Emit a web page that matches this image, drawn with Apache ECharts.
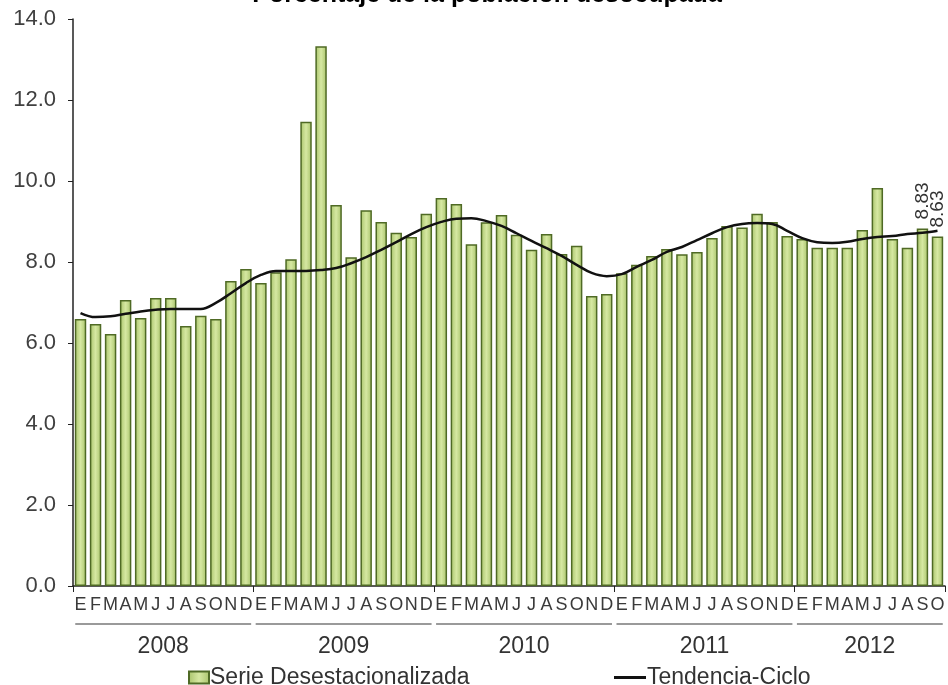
<!DOCTYPE html>
<html>
<head>
<meta charset="utf-8">
<script src="https://cdn.jsdelivr.net/npm/echarts@6/dist/echarts.min.js"></script>
<style>
  html, body { margin: 0; padding: 0; background: #fff; }
  #chart { width: 948px; height: 685px; }
</style>
</head>
<body>
<div id="chart"></div>
<script>
const monthLetters = ['E','F','M','A','M','J','J','A','S','O','N','D'];
const years = ['2008', '2009', '2010', '2011', '2012'];
const monthsInYear = [12, 12, 12, 12, 10];
const yTicks = { min: 0, max: 14, step: 2 };

// Serie desestacionalizada, ene 2008 - oct 2012
const serie2008 = [6.59, 6.47, 6.22, 7.06, 6.62, 7.11, 7.11, 6.42, 6.67, 6.59, 7.53, 7.83];
const serie2009 = [7.48, 7.75, 8.07, 11.46, 13.33, 9.41, 8.12, 9.28, 8.99, 8.72, 8.62, 9.19];
const serie2010 = [9.58, 9.43, 8.44, 8.98, 9.16, 8.67, 8.30, 8.69, 8.20, 8.40, 7.16, 7.21];
const serie2011 = [7.72, 7.93, 8.15, 8.32, 8.19, 8.25, 8.59, 8.89, 8.85, 9.19, 8.99, 8.64];
const serie2012 = [8.57, 8.35, 8.35, 8.35, 8.79, 9.83, 8.57, 8.35, 8.83, 8.63];

// Tendencia-ciclo
const tend2008 = [6.74, 6.64, 6.66, 6.72, 6.78, 6.82, 6.84, 6.84, 6.84, 6.99, 7.23, 7.48];
const tend2009 = [7.68, 7.78, 7.78, 7.78, 7.80, 7.85, 7.97, 8.12, 8.30, 8.49, 8.69, 8.86];
const tend2010 = [8.99, 9.07, 9.08, 9.01, 8.89, 8.71, 8.52, 8.34, 8.15, 7.93, 7.73, 7.65];
const tend2011 = [7.70, 7.88, 8.05, 8.25, 8.37, 8.54, 8.71, 8.86, 8.94, 8.96, 8.94, 8.77];
const tend2012 = [8.59, 8.49, 8.47, 8.50, 8.57, 8.62, 8.64, 8.69, 8.72, 8.77];

const serie = [].concat(serie2008, serie2009, serie2010, serie2011, serie2012);
const tendencia = [].concat(tend2008, tend2009, tend2010, tend2011, tend2012);

// etiquetas de meses y posiciones de año
const categories = [];
const yearCenters = {};
let start = 0;
years.forEach((y, k) => {
  for (let m = 0; m < monthsInYear[k]; m++) categories.push(monthLetters[m]);
  yearCenters[start + monthsInYear[k] / 2] = y;
  start += monthsInYear[k];
});
const total = categories.length;

const labeled = { 56: true, 57: true }; // sep y oct 2012
const barData = serie.map((v, i) => labeled[i] ? {
  value: v,
  label: {
    show: true, position: 'top', rotate: 90, align: 'left', verticalAlign: 'middle',
    distance: 9, fontSize: 19, color: '#333', formatter: p => p.value.toFixed(2)
  }
} : v);

const barFill = new echarts.graphic.LinearGradient(0, 0, 1, 0, [
  { offset: 0, color: '#a8c36a' },
  { offset: 0.5, color: '#d6e8a2' },
  { offset: 1, color: '#a8c36a' }
]);

const font = 'Liberation Sans, Arial, sans-serif';
const chart = echarts.init(document.getElementById('chart'));

chart.setOption({
  animation: false,
  textStyle: { fontFamily: font },
  title: {
    text: 'Porcentaje de la población desocupada',
    left: 482, top: -22, textAlign: 'center',
    textStyle: { fontSize: 25, fontWeight: 'bold', color: '#000', fontFamily: font }
  },
  legend: [
    {
      data: [{ name: 'Serie Desestacionalizada', icon: 'rect' }], left: 183, top: 661,
      itemWidth: 20, itemHeight: 12, itemGap: 4,
      textStyle: { fontSize: 23, color: '#333', padding: [0, 0, 0, -4] }
    },
    {
      data: [{ name: 'Tendencia-Ciclo', icon: 'rect' }], left: 609, top: 661,
      itemWidth: 32, itemHeight: 3,
      itemStyle: { borderWidth: 0 },
      textStyle: { fontSize: 23, color: '#333', padding: [0, 0, 0, -4] }
    }
  ],
  grid: { left: 73, right: 3, top: 19, bottom: 99 },
  xAxis: [
    {
      type: 'category',
      data: categories,
      axisLine: { lineStyle: { color: '#222', width: 1.5 } },
      axisTick: { show: true, length: 6, interval: (i) => i % 12 === 0, lineStyle: { color: '#222' } },
      axisLabel: { interval: 0, margin: 10, fontSize: 18, color: '#3a3a3a' }
    },
    {
      type: 'value',
      position: 'bottom',
      offset: 38,
      min: 0, max: total, interval: 0.5,
      axisLine: { show: false },
      axisTick: { show: false },
      splitLine: { show: false },
      axisLabel: {
        margin: 11, fontSize: 23, color: '#333',
        showMinLabel: true, showMaxLabel: true,
        formatter: v => yearCenters[v] || ''
      }
    }
  ],
  yAxis: {
    type: 'value',
    min: yTicks.min, max: yTicks.max, interval: yTicks.step,
    axisLine: { show: true, lineStyle: { color: '#222', width: 1.5 } },
    axisTick: { show: true, length: 5, lineStyle: { color: '#222' } },
    splitLine: { show: false },
    axisLabel: { fontSize: 22, color: '#404040', margin: 17, formatter: v => v.toFixed(1) }
  },
  series: [
    {
      name: 'Serie Desestacionalizada',
      type: 'bar',
      data: barData,
      barCategoryGap: '24%',
      itemStyle: { color: barFill, borderColor: '#4f6a25', borderWidth: 1.5 }
    },
    {
      name: 'Tendencia-Ciclo',
      type: 'line',
      data: tendencia,
      smooth: 0.4,
      symbol: 'none',
      lineStyle: { color: '#111', width: 2.5 },
      itemStyle: { color: '#111' },
      z: 5
    }
  ]
});

// líneas grises bajo los meses, una por año
const segments = [];
let s = 0;
monthsInYear.forEach(n => {
  const x1 = chart.convertToPixel({ xAxisIndex: 1 }, s + 0.15);
  const x2 = chart.convertToPixel({ xAxisIndex: 1 }, s + n - 0.15);
  segments.push({
    type: 'line',
    shape: { x1: x1, y1: 624, x2: x2, y2: 624 },
    style: { stroke: '#9a9a9a', lineWidth: 2 }
  });
  s += n;
});
chart.setOption({ graphic: segments });
</script>
</body>
</html>
